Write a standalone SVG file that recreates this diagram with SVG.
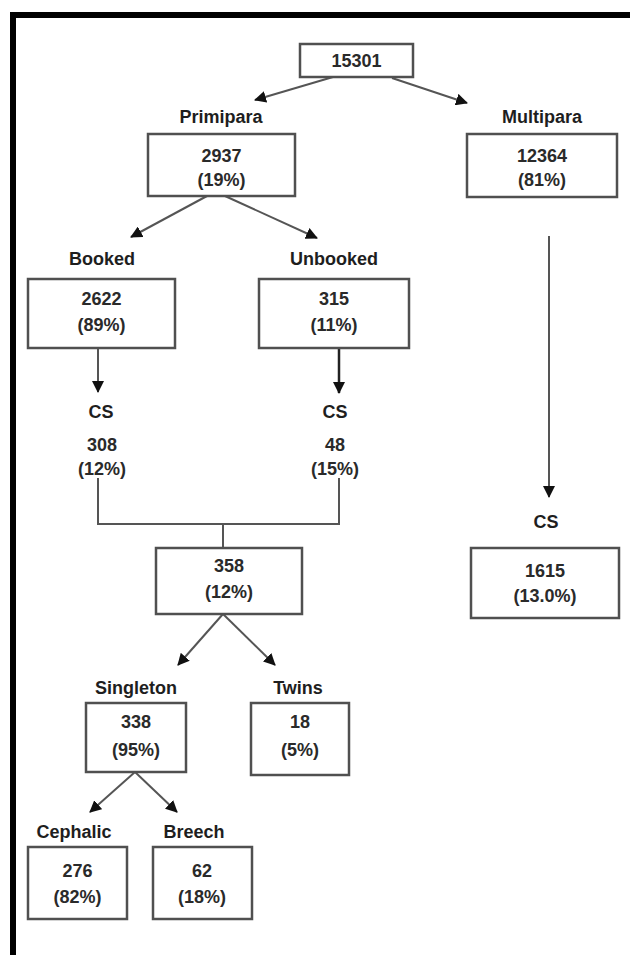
<svg xmlns="http://www.w3.org/2000/svg" width="630" height="955" viewBox="0 0 630 955">
<style>
  .box { fill: #ffffff; stroke: #505050; stroke-width: 2.5; }
  .t { font-family: "Liberation Sans", Arial, sans-serif; font-size: 18px; font-weight: bold; fill: #1e1e1e; text-anchor: middle; }
  .n { font-family: "Liberation Sans", Arial, sans-serif; font-size: 18px; font-weight: bold; fill: #2a2a2a; text-anchor: middle; }
  .c { fill: none; stroke: #555555; stroke-width: 2; }
  .ca { fill: none; stroke: #555555; stroke-width: 2; marker-end: url(#ah); }
  .cb { fill: none; stroke: #222222; stroke-width: 2.5; marker-end: url(#ah); }
</style>
<defs>
  <marker id="ah" markerUnits="userSpaceOnUse" markerWidth="12" markerHeight="12" viewBox="0 0 12 12" refX="11" refY="6" orient="auto">
    <path d="M0,0 L12,6 L0,12 Z" fill="#111111"/>
  </marker>
</defs>
<rect width="630" height="955" fill="#ffffff"/>
<path d="M13,955 V15 H630" fill="none" stroke="#000000" stroke-width="6"/>

<g id="connectors">
  <path class="ca" d="M333,77 L255,100"/>
  <path class="ca" d="M392,78 L467,103"/>
  <path class="ca" d="M207,196 L131,237"/>
  <path class="ca" d="M225,196 L317,238"/>
  <path class="ca" d="M98,349 V392"/>
  <path class="cb" d="M339,349 V393"/>
  <path class="ca" d="M549,236 V497"/>
  <path class="c" d="M98,478 V524 H339 V478"/>
  <path class="c" d="M223,524 V548"/>
  <path class="ca" d="M223,614 L178,665"/>
  <path class="ca" d="M223,614 L275,665"/>
  <path class="ca" d="M135,772 L90,812"/>
  <path class="ca" d="M135,772 L177,812"/>
</g>

<g id="n-total">
  <rect class="box" x="300" y="44" width="113" height="33"/>
  <text class="n" x="356.5" y="66.5">15301</text>
</g>
<g id="n-primipara">
  <text class="t" x="221" y="123">Primipara</text>
  <rect class="box" x="148" y="134" width="147" height="62"/>
  <text class="n" x="221.5" y="162">2937</text>
  <text class="n" x="221.5" y="186">(19%)</text>
</g>
<g id="n-multipara">
  <text class="t" x="542" y="123">Multipara</text>
  <rect class="box" x="467" y="134" width="150" height="63"/>
  <text class="n" x="542" y="162">12364</text>
  <text class="n" x="542" y="186">(81%)</text>
</g>
<g id="n-booked">
  <text class="t" x="102" y="265">Booked</text>
  <rect class="box" x="28" y="279" width="147" height="69"/>
  <text class="n" x="101.5" y="305">2622</text>
  <text class="n" x="101.5" y="331">(89%)</text>
</g>
<g id="n-unbooked">
  <text class="t" x="334" y="265">Unbooked</text>
  <rect class="box" x="259" y="279" width="150" height="69"/>
  <text class="n" x="334" y="305">315</text>
  <text class="n" x="334" y="331">(11%)</text>
</g>
<g id="n-cs-booked">
  <text class="t" x="101" y="418">CS</text>
  <text class="n" x="102" y="451">308</text>
  <text class="n" x="102" y="475">(12%)</text>
</g>
<g id="n-cs-unbooked">
  <text class="t" x="335" y="418">CS</text>
  <text class="n" x="335" y="451">48</text>
  <text class="n" x="335" y="475">(15%)</text>
</g>
<g id="n-cs-primipara">
  <rect class="box" x="156" y="548" width="146" height="66"/>
  <text class="n" x="229" y="572">358</text>
  <text class="n" x="229" y="598">(12%)</text>
</g>
<g id="n-cs-multipara">
  <text class="t" x="546" y="528">CS</text>
  <rect class="box" x="471" y="548" width="148" height="70"/>
  <text class="n" x="545" y="577">1615</text>
  <text class="n" x="545" y="602">(13.0%)</text>
</g>
<g id="n-singleton">
  <text class="t" x="136" y="694">Singleton</text>
  <rect class="box" x="86" y="703" width="100" height="69"/>
  <text class="n" x="136" y="728">338</text>
  <text class="n" x="136" y="756">(95%)</text>
</g>
<g id="n-twins">
  <text class="t" x="298" y="694">Twins</text>
  <rect class="box" x="251" y="703" width="98" height="72"/>
  <text class="n" x="300" y="728">18</text>
  <text class="n" x="300" y="756">(5%)</text>
</g>
<g id="n-cephalic">
  <text class="t" x="74" y="838">Cephalic</text>
  <rect class="box" x="28" y="847" width="99" height="72"/>
  <text class="n" x="77.5" y="877">276</text>
  <text class="n" x="77.5" y="903">(82%)</text>
</g>
<g id="n-breech">
  <text class="t" x="194" y="838">Breech</text>
  <rect class="box" x="153" y="847" width="99" height="72"/>
  <text class="n" x="202" y="877">62</text>
  <text class="n" x="202" y="903">(18%)</text>
</g>
</svg>
